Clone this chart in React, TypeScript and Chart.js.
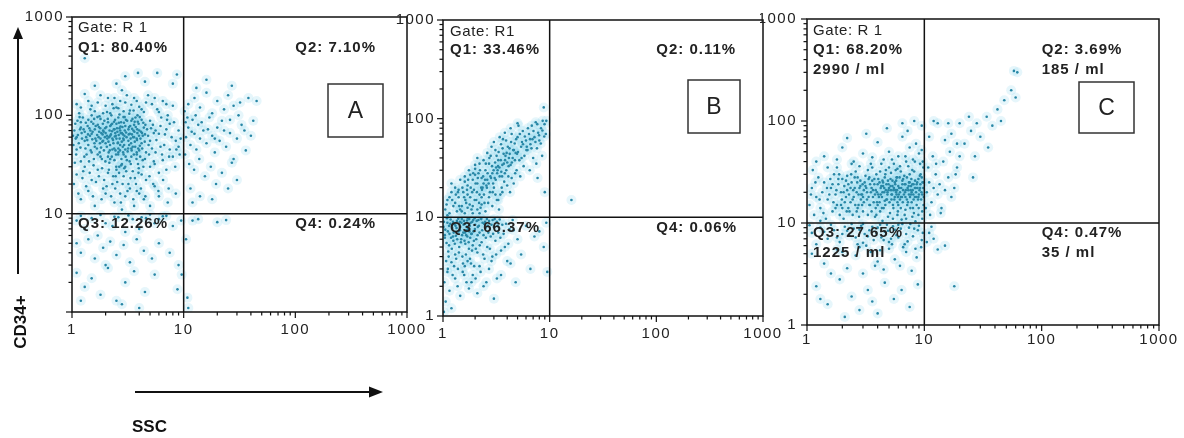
import React, { useEffect, useRef } from 'react';
import { Chart, registerables } from 'chart.js';

Chart.register(...registerables);

// ---------- tick values / labels ----------
const TICK_VALUES = [1, 2, 3, 4, 5, 6, 7, 8, 9, 10, 20, 30, 40, 50, 60, 70, 80, 90, 100, 200, 300, 400, 500, 600, 700, 800, 900, 1000];
const X_LABELS = [1, 10, 100, 1000];
const Y_LABELS_A = [10, 100, 1000];
const Y_LABELS_BC = [1, 10, 100, 1000];

// ---------- panel A events (SSC, CD34+) as flat x,y pairs ----------
const aQ1 = [
  1.1, 60, 1.2, 75, 1.3, 55, 1.4, 90, 1.5, 65, 1.6, 48, 1.7, 80, 1.8, 58, 1.9, 70, 2.0, 52, 2.1, 85, 2.2, 62, 2.3, 45, 2.4, 72, 2.5, 58, 2.6, 95, 2.7, 50, 2.8, 66, 2.9, 40, 3.0, 78, 3.2, 55, 3.4, 88, 3.6, 60, 3.8, 42, 4.0, 70, 4.2, 52, 4.5, 64,
  1.1, 45, 1.2, 85, 1.3, 68, 1.4, 50, 1.5, 100, 1.6, 72, 1.7, 40, 1.8, 92, 1.9, 55, 2.0, 66, 2.1, 38, 2.2, 78, 2.3, 58, 2.4, 35, 2.5, 82, 2.6, 46, 2.7, 70, 2.8, 32, 2.9, 56, 3.0, 45, 3.2, 72, 3.4, 38, 3.6, 80, 3.8, 58, 4.0, 44, 4.2, 90, 4.5, 36,
  1.05, 70, 1.15, 52, 1.25, 95, 1.35, 40, 1.45, 62, 1.55, 82, 1.65, 55, 1.75, 68, 1.85, 36, 1.95, 88, 2.05, 48, 2.15, 60, 2.25, 100, 2.35, 52, 2.45, 44, 2.55, 68, 2.65, 30, 2.75, 85, 2.85, 48, 2.95, 62, 3.1, 35, 3.3, 65, 3.5, 48, 3.7, 95, 3.9, 32, 4.1, 58, 4.4, 75,
  1.08, 58, 1.22, 66, 1.38, 78, 1.52, 57, 1.68, 63, 1.82, 47, 1.98, 74, 2.12, 54, 2.28, 69, 2.42, 61, 2.58, 53, 2.72, 77, 2.88, 58, 3.05, 67, 3.25, 50, 3.45, 73, 3.65, 54, 3.85, 66, 4.05, 49, 4.3, 62, 1.12, 88, 1.32, 46, 1.58, 92, 1.78, 52, 2.18, 44, 2.38, 86, 2.62, 63, 2.92, 84, 3.15, 43, 3.55, 70, 3.95, 82, 1.42, 34, 1.88, 64, 2.48, 40, 3.35, 58,
  1.03, 50, 1.07, 82, 1.09, 40, 1.13, 63, 1.17, 96, 1.19, 47, 1.23, 58, 1.27, 72, 1.29, 38, 1.33, 84, 1.37, 56, 1.39, 64, 1.43, 74, 1.47, 44, 1.49, 86, 1.53, 68, 1.57, 36, 1.59, 52, 1.63, 78, 1.67, 46, 1.69, 96, 1.73, 60, 1.77, 42, 1.79, 74, 1.83, 66, 1.87, 54, 1.89, 82, 1.93, 44, 1.97, 60, 1.99, 34,
  2.03, 76, 2.07, 58, 2.09, 92, 2.13, 42, 2.17, 70, 2.19, 50, 2.23, 64, 2.27, 38, 2.29, 82, 2.33, 56, 2.37, 72, 2.39, 46, 2.43, 90, 2.47, 62, 2.49, 30, 2.53, 74, 2.57, 52, 2.59, 40, 2.63, 84, 2.67, 58, 2.69, 44, 2.73, 66, 2.77, 36, 2.79, 54, 2.83, 76, 2.87, 42, 2.89, 96, 2.93, 50, 2.97, 70,
  3.02, 38, 3.08, 60, 3.12, 88, 3.18, 46, 3.22, 64, 3.28, 34, 3.32, 78, 3.38, 52, 3.42, 44, 3.48, 92, 3.52, 60, 3.58, 40, 3.62, 68, 3.68, 48, 3.72, 76, 3.78, 36, 3.82, 56, 3.88, 86, 3.92, 46, 3.98, 62, 4.08, 38, 4.15, 68, 4.25, 46, 4.35, 84, 4.48, 54, 4.6, 42, 4.7, 72, 4.85, 50, 5.0, 88, 5.2, 46, 5.4, 66, 5.7, 56,
  1.02, 62, 1.18, 72, 1.34, 60, 1.46, 70, 1.62, 58, 1.74, 76, 1.92, 68, 2.06, 62, 2.24, 80, 2.44, 66, 2.66, 74, 2.86, 64, 3.04, 90, 3.24, 76, 3.44, 64, 3.64, 86, 3.84, 72, 4.04, 96, 4.24, 66, 4.54, 80, 4.8, 62, 5.1, 74, 5.6, 70, 6.2, 78, 6.8, 64, 7.5, 82,
  1.2, 34, 1.5, 42, 1.8, 38, 2.2, 36, 2.6, 42, 3.0, 30, 3.4, 46, 3.8, 40, 4.3, 35, 4.9, 40, 5.5, 32, 6.4, 40,
  1.06, 33, 1.26, 27, 1.56, 31, 1.86, 29, 2.16, 33, 2.46, 24, 2.76, 31, 3.06, 27, 3.36, 32, 3.66, 23, 3.96, 29, 4.36, 30, 1.16, 105, 1.46, 115, 1.76, 98, 2.06, 108, 2.36, 118, 2.66, 102, 2.96, 96, 3.26, 104, 3.56, 112, 3.86, 100,
  1.04, 20, 1.14, 16, 1.24, 23, 1.34, 19, 1.44, 26, 1.54, 15, 1.64, 21, 1.74, 24, 1.84, 14, 1.94, 22, 2.04, 19, 2.14, 28, 2.24, 15, 2.34, 24, 2.44, 18, 2.54, 21, 2.64, 26, 2.74, 13, 2.84, 20, 2.94, 29, 3.14, 17, 3.34, 23, 3.54, 14, 3.74, 20, 3.94, 26, 4.14, 18, 4.54, 15, 4.94, 24, 5.34, 20, 5.94, 17, 6.54, 22, 7.34, 18,
  1.1, 130, 1.3, 165, 1.5, 125, 1.7, 135, 1.9, 105, 2.1, 150, 2.3, 130, 2.5, 120, 2.7, 140, 2.9, 110, 3.1, 160, 3.4, 128, 3.8, 140, 4.2, 115, 4.6, 135, 5.5, 150, 6.0, 108, 7.0, 130,
  1.1, 25, 1.3, 30, 1.5, 22, 1.7, 28, 1.9, 18, 2.1, 26, 2.3, 20, 2.5, 28, 2.7, 16, 2.9, 24, 3.2, 20, 3.5, 27, 3.8, 17, 4.2, 25, 4.6, 22, 5.0, 30, 5.5, 19, 6.0, 26, 6.5, 35, 7.0, 28, 7.5, 45, 8.0, 38, 8.5, 55, 9.0, 48,
  1.2, 120, 1.4, 140, 1.6, 110, 1.8, 160, 2.0, 125, 2.2, 105, 2.4, 150, 2.6, 118, 2.8, 180, 3.0, 135, 3.3, 112, 3.6, 150, 4.0, 122, 4.4, 108, 4.8, 160, 5.2, 130, 5.8, 115, 6.5, 140, 7.2, 100, 8.0, 125,
  5.0, 55, 5.3, 80, 5.6, 42, 6.0, 65, 6.3, 95, 6.7, 50, 7.0, 72, 7.4, 38, 7.8, 60, 8.2, 85, 8.6, 45, 9.0, 70, 9.4, 58, 5.4, 34, 6.2, 48, 7.1, 90, 8.4, 30, 9.2, 40,
  1.2, 14, 1.6, 12, 2.0, 16, 2.4, 13, 3.0, 15, 3.6, 12, 4.4, 14, 5.0, 12, 6.0, 15, 7.2, 13, 8.5, 16, 1.4, 17, 2.8, 11, 3.3, 18, 4.0, 16,
  1.3, 380, 2.5, 210, 3.0, 250, 4.5, 220, 5.8, 270, 8.0, 210, 3.9, 270, 8.7, 260, 1.6, 200,
];
const aQ2 = [
  10.5, 60, 11, 75, 11.5, 50, 12, 90, 12.5, 65, 13, 45, 13.5, 80, 14, 58, 15, 70, 16, 52, 17, 95, 18, 62, 19, 42, 20, 75, 21, 55, 22, 88, 24, 48, 26, 66, 28, 36, 30, 58, 33, 80, 36, 44, 40, 62, 45, 140,
  10.2, 110, 11, 130, 12.5, 150, 14, 120, 16, 170, 18, 105, 20, 140, 23, 115, 25, 160, 28, 125, 32, 135, 38, 150, 27, 200, 16, 230, 13, 190,
  10.3, 40, 11.2, 32, 12.4, 28, 13.8, 36, 15.5, 24, 17.5, 30, 19.5, 20, 22, 26, 25, 18, 30, 22, 14, 15, 12, 13, 18, 14, 11.5, 18, 27, 33,
  10.4, 85, 10.8, 95, 11.8, 68, 12.8, 100, 14.5, 85, 16.5, 72, 19, 58, 23, 70, 26, 90, 31, 100, 35, 70, 42, 88,
];
const aQ3 = [
  1.1, 8.5, 1.3, 7, 1.5, 9, 1.7, 6, 2.0, 8, 2.3, 7.5, 2.6, 9.2, 3.0, 6.5, 3.5, 8.8, 4.0, 7, 4.6, 9, 5.5, 8, 6.5, 9.4, 8.0, 7.5, 9.5, 8.5,
  1.1, 5, 1.2, 4, 1.4, 5.5, 1.6, 3.5, 1.9, 4.5, 2.2, 5.2, 2.5, 3.8, 2.9, 4.8, 3.3, 3.2, 3.8, 5.5, 4.4, 4.2, 5.2, 3.5, 6.0, 5, 7.5, 4, 9.0, 3,
  1.1, 2.5, 1.3, 1.8, 1.5, 2.2, 1.8, 1.5, 2.1, 2.8, 2.5, 1.3, 3.0, 2, 3.6, 2.6, 4.5, 1.6, 5.5, 2.4, 8.8, 1.7, 9.6, 2.4, 1.2, 1.3, 2.8, 1.2, 4.0, 1.1, 2.0, 3,
  1.2, 9.5, 1.8, 9.7, 2.4, 9.3, 3.2, 9.6, 4.2, 9.2, 5.0, 9.8, 6.0, 8.8, 7.0, 9.5,
];
const aQ4 = [10.5, 5.5, 12, 8.5, 13.5, 8.8, 20, 8.2, 11, 1.1, 10.8, 1.4, 24, 8.6];

// ---------- panel B events ----------
const bQ1 = [
  1.05, 12, 1.1, 15, 1.15, 11, 1.2, 18, 1.25, 13, 1.3, 20, 1.35, 11.5, 1.4, 16, 1.45, 24, 1.5, 13, 1.1, 10.5, 1.3, 14, 1.45, 12, 1.2, 22,
  1.55, 18, 1.6, 26, 1.65, 14, 1.7, 21, 1.75, 30, 1.8, 16, 1.85, 12, 1.9, 24, 1.95, 19, 2.0, 34, 2.05, 15, 2.1, 22, 2.15, 28, 2.2, 17, 2.25, 12.5, 2.3, 25, 2.35, 20, 2.4, 38, 2.45, 14, 2.5, 30, 1.6, 11, 1.9, 13, 2.2, 11, 2.4, 22, 2.1, 40, 1.7, 17, 2.0, 27, 2.3, 16,
  2.6, 24, 2.7, 35, 2.75, 18, 2.8, 42, 2.9, 28, 3.0, 20, 3.1, 48, 3.15, 32, 3.2, 15, 3.3, 38, 3.4, 26, 3.5, 55, 3.55, 20, 3.6, 34, 3.7, 44, 3.8, 28, 3.9, 60, 4.0, 36, 2.65, 14, 2.95, 22, 3.25, 30, 3.45, 17, 3.75, 23, 3.95, 45, 2.85, 52, 3.35, 12, 3.65, 62,
  4.1, 26, 4.2, 50, 4.3, 34, 4.4, 70, 4.5, 40, 4.6, 22, 4.7, 56, 4.8, 45, 4.9, 30, 5.0, 65, 5.2, 38, 5.4, 52, 5.6, 75, 5.8, 42, 6.0, 60, 4.25, 18, 4.75, 28, 5.3, 26, 5.7, 33, 5.1, 85,
  6.2, 48, 6.4, 70, 6.6, 55, 6.8, 85, 7.0, 40, 7.2, 65, 7.4, 92, 7.6, 50, 7.8, 72, 8.0, 60, 8.3, 80, 8.6, 95, 8.9, 66, 9.2, 70, 6.5, 30, 7.5, 35, 8.5, 42, 9.0, 18, 8.8, 130, 7.7, 25, 9.3, 95,
  1.15, 16, 1.38, 18, 1.62, 15, 1.82, 20, 2.08, 18, 2.32, 19, 2.55, 21, 2.78, 26, 3.05, 25, 3.28, 33, 3.52, 29, 3.82, 38, 4.15, 40, 4.55, 48, 4.95, 44, 5.5, 58, 6.1, 52, 6.9, 62,
  1.08, 13.5, 1.22, 15, 1.32, 17, 1.42, 13, 1.52, 20, 1.58, 16, 1.68, 19, 1.72, 24, 1.78, 13.5, 1.88, 18, 1.92, 28, 1.98, 15, 2.02, 22, 2.12, 25, 2.18, 14, 2.22, 30, 2.28, 20, 2.38, 26, 2.42, 17, 2.48, 24,
  2.52, 35, 2.58, 20, 2.62, 28, 2.68, 22, 2.72, 40, 2.82, 25, 2.88, 33, 2.92, 18, 2.98, 30, 3.08, 36, 3.12, 24, 3.18, 42, 3.22, 28, 3.32, 46, 3.38, 32, 3.48, 38, 3.58, 26, 3.62, 50, 3.72, 35, 3.85, 42,
  3.92, 30, 4.05, 52, 4.12, 33, 4.22, 44, 4.35, 58, 4.42, 36, 4.62, 48, 4.72, 38, 4.85, 62, 5.05, 46, 5.25, 70, 5.45, 40, 5.62, 55, 5.85, 66, 6.05, 48, 6.25, 80, 6.55, 62, 6.75, 50, 7.05, 75, 7.35, 58, 7.65, 88, 7.95, 68, 8.25, 56, 8.55, 76, 8.95, 88,
  1.5, 11.5, 1.7, 12.5, 1.9, 11, 2.1, 12, 2.3, 13.5, 2.5, 11.5, 2.7, 16, 2.9, 13, 3.1, 17, 3.3, 15, 3.6, 18, 4.0, 21, 4.4, 25, 1.4, 19, 1.6, 23, 1.8, 27, 2.0, 31, 2.2, 35, 2.6, 45, 3.0, 58, 3.4, 65, 3.8, 72, 4.3, 80, 5.0, 90,
];
const bQ2 = [16, 15];
const bQ3 = [
  1.02, 9, 1.05, 7.5, 1.08, 5.5, 1.1, 8.8, 1.12, 4.5, 1.15, 6.8, 1.18, 9.5, 1.2, 3.5, 1.22, 7.8, 1.25, 5.8, 1.28, 8.5, 1.3, 4.2, 1.32, 6.5, 1.35, 9.2, 1.38, 3, 1.4, 7.2, 1.42, 5, 1.45, 8, 1.48, 6, 1.5, 9.6,
  1.52, 4, 1.55, 7, 1.58, 2.6, 1.6, 8.6, 1.62, 5.4, 1.65, 6.6, 1.68, 9.3, 1.7, 3.6, 1.72, 7.6, 1.75, 4.8, 1.78, 8.2, 1.8, 6.2, 1.85, 2.2, 1.88, 9, 1.9, 5.2, 1.93, 7.2, 1.96, 3.2, 2.0, 8.4, 2.05, 6, 2.1, 4.4,
  2.15, 9.4, 2.2, 7, 2.25, 2.8, 2.3, 5.6, 2.35, 8.8, 2.4, 6.6, 2.45, 3.8, 2.5, 7.8, 2.6, 5, 2.7, 9.2, 2.8, 6.4, 2.9, 4, 3.0, 8, 3.1, 5.8, 3.2, 2.4, 3.3, 7, 3.4, 9.5, 3.5, 4.6, 3.7, 6.8, 3.9, 8.6,
  4.1, 5.4, 4.3, 3.4, 4.6, 7.4, 5.0, 6, 5.4, 4.2, 6.0, 8.2, 6.6, 3, 7.2, 6.4, 8.0, 7.2, 8.8, 5, 9.3, 8.8, 9.5, 2.8,
  1.03, 2.2, 1.06, 1.4, 1.1, 2.8, 1.15, 1.8, 1.2, 1.2, 1.3, 2.4, 1.45, 1.6, 1.6, 3.2, 1.75, 1.9, 1.9, 2.6, 2.1, 1.7, 2.4, 2, 2.7, 3, 3.0, 1.5, 3.5, 2.6, 4.0, 3.6, 4.8, 2.2, 1.07, 3.6, 1.13, 4, 1.27, 3.2, 1.02, 1.1,
  1.04, 6.2, 1.14, 8.2, 1.24, 6.4, 1.34, 7.8, 1.44, 9.0, 1.56, 8.4, 1.66, 7.4, 1.76, 9.6, 1.86, 6.8, 1.98, 9.8, 2.12, 8.0, 2.28, 9.6, 2.48, 9.0, 2.62, 8.2, 2.92, 9.4, 3.2, 9.0,
  1.01, 8, 1.04, 6.6, 1.09, 9.8, 1.11, 7.2, 1.14, 5.2, 1.17, 8.6, 1.19, 6.2, 1.21, 4.8, 1.24, 9, 1.26, 7, 1.29, 5.4, 1.31, 8.2, 1.33, 3.8, 1.36, 6, 1.39, 9.7, 1.41, 4.4, 1.44, 7.4, 1.47, 5.6, 1.49, 8.8, 1.51, 6.6,
  1.54, 3.4, 1.57, 9.2, 1.59, 5.8, 1.61, 7, 1.64, 4.2, 1.67, 8, 1.69, 6.4, 1.71, 9.8, 1.74, 5.6, 1.77, 7.2, 1.79, 3.8, 1.82, 8.8, 1.84, 6.8, 1.87, 4.6, 1.92, 9.4, 1.95, 5.8, 1.99, 7.6, 2.03, 4.8, 2.07, 9.2, 2.11, 6.6,
  2.17, 8.2, 2.21, 5.2, 2.27, 9.8, 2.33, 7.4, 2.38, 4.2, 2.43, 8.6, 2.52, 6.2, 2.58, 9.6, 2.66, 7, 2.75, 4.8, 2.85, 8.4, 2.95, 6.8, 3.05, 9.6, 3.15, 4.2, 3.25, 8.2, 3.45, 6.2, 3.6, 8.4, 3.8, 5, 4.2, 7.6, 4.5, 9.4,
  1.11, 3, 1.23, 2.6, 1.37, 2, 1.53, 2.8, 1.66, 2.2, 1.83, 3.4, 2.02, 2.4, 2.2, 3.2, 2.55, 2.2, 2.85, 3.6,
];

// ---------- panel C events ----------
const cQ1 = [
  3.0, 18, 3.2, 22, 3.4, 15, 3.6, 26, 3.8, 19, 4.0, 24, 4.2, 13, 4.4, 20, 4.6, 28, 4.8, 17, 5.0, 22, 5.2, 31, 5.4, 15, 5.6, 25, 5.8, 19, 6.0, 23, 6.3, 14, 6.6, 27, 6.9, 18, 7.2, 22, 7.5, 30, 7.8, 16, 8.1, 24, 8.5, 20, 8.9, 27, 9.4, 17, 9.8, 22,
  3.1, 25, 3.3, 12, 3.5, 20, 3.7, 16, 3.9, 30, 4.1, 18, 4.3, 23, 4.5, 14, 4.7, 21, 4.9, 26, 5.1, 12.5, 5.3, 19, 5.5, 22, 5.7, 33, 5.9, 16, 6.2, 20, 6.5, 24, 6.8, 12, 7.1, 28, 7.4, 19, 7.7, 23, 8.0, 14, 8.3, 18, 8.7, 25, 9.1, 21, 9.6, 13,
  3.0, 13, 3.4, 28, 3.8, 11.5, 4.2, 32, 4.6, 16.5, 5.0, 35, 5.4, 11, 5.8, 28, 6.2, 17, 6.6, 21, 7.0, 11, 7.4, 25, 7.8, 20, 8.2, 32, 8.6, 15, 9.0, 19, 9.5, 28, 4.4, 26, 5.2, 21, 6.0, 15, 6.8, 24, 7.6, 14, 4.0, 15, 5.6, 18,
  3.25, 17, 3.65, 21, 4.05, 19, 4.45, 23, 4.85, 20, 5.25, 17, 5.65, 21, 6.05, 19, 6.45, 18, 6.85, 20, 7.25, 16, 7.65, 21, 8.05, 19, 8.45, 22, 8.85, 17, 9.25, 24,
  2.0, 14, 2.15, 18, 2.25, 24, 2.35, 16, 2.55, 22, 2.65, 13, 2.75, 19, 2.85, 26, 2.95, 15, 3.05, 21, 3.15, 29, 3.35, 18, 3.45, 24, 3.55, 13, 3.75, 27, 3.85, 21, 3.95, 16, 4.15, 25, 4.25, 19, 4.35, 14,
  4.55, 22, 4.65, 30, 4.75, 17, 4.95, 24, 5.15, 27, 5.35, 23, 5.45, 14, 5.75, 26, 5.85, 21, 5.95, 13, 6.15, 28, 6.35, 22, 6.55, 16, 6.75, 29, 6.95, 21, 7.15, 15, 7.35, 23, 7.55, 18, 7.75, 27, 7.95, 21,
  8.15, 12.5, 8.35, 26, 8.55, 18, 8.75, 22, 8.95, 14, 9.15, 29, 9.45, 20, 9.65, 25, 9.85, 15,
  1.55, 19, 1.65, 24, 1.75, 14, 1.85, 27, 1.95, 15, 2.05, 20, 2.15, 26, 2.25, 14, 2.35, 22, 2.45, 17, 2.55, 28, 2.65, 20, 2.75, 15, 2.85, 23, 2.95, 19, 3.05, 16, 3.15, 23, 3.25, 20, 3.35, 27, 3.45, 15,
  3.55, 22, 3.65, 18, 3.75, 24, 3.85, 14, 3.95, 20, 4.05, 27, 4.15, 16, 4.25, 22, 4.35, 18, 4.45, 25, 4.55, 20, 4.65, 15, 4.75, 24, 4.85, 19, 4.95, 21, 5.05, 16, 5.15, 23, 5.25, 19, 5.35, 26, 5.45, 21,
  5.55, 17, 5.65, 24, 5.75, 20, 5.85, 28, 5.95, 18, 6.1, 22, 6.3, 18, 6.5, 26, 6.7, 19, 6.9, 24, 7.1, 17, 7.3, 21, 7.5, 25, 7.7, 19, 7.9, 24, 8.1, 17, 8.3, 22, 8.6, 24, 8.9, 18, 9.2, 22, 9.6, 19,
  1.08, 19, 1.18, 25, 1.28, 17, 1.38, 12.5, 1.48, 22, 1.58, 27, 1.68, 16, 1.78, 21, 1.88, 30, 1.98, 17, 2.08, 23, 2.18, 13, 2.28, 19, 2.38, 30, 2.48, 21, 2.58, 15, 2.68, 25, 2.78, 11.5, 2.88, 17, 2.98, 24,
  3.6, 35, 4.3, 38, 5.3, 42, 6.3, 32, 7.3, 36, 8.3, 40, 5.9, 34, 4.7, 33, 3.3, 33, 2.4, 38, 7.9, 33, 6.9, 45,
  3.9, 12, 4.9, 11.5, 5.9, 12, 6.9, 13.5, 7.9, 11.5, 8.9, 12, 9.6, 11, 4.4, 10.5, 6.4, 10.8, 8.4, 10.4,
  1.05, 15, 1.1, 22, 1.15, 12, 1.2, 18, 1.25, 28, 1.3, 14, 1.35, 20, 1.4, 25, 1.45, 11, 1.5, 17, 1.6, 22, 1.65, 13, 1.7, 30, 1.75, 19, 1.8, 15, 1.85, 24, 1.9, 12, 1.95, 20, 2.0, 27, 2.1, 16,
  2.2, 21, 2.3, 13, 2.4, 25, 2.5, 18, 2.6, 32, 2.7, 14, 2.8, 22, 2.9, 19, 1.12, 33, 1.5, 35, 2.05, 11, 2.45, 12, 1.3, 10.5, 1.8, 35, 2.7, 28, 2.2, 29,
  1.4, 45, 2.0, 55, 2.5, 40, 3.0, 48, 3.5, 38, 4.0, 62, 4.5, 42, 5.0, 50, 5.5, 38, 6.0, 45, 6.5, 70, 7.0, 40, 7.5, 55, 8.0, 42, 8.5, 60, 9.0, 48, 9.5, 90, 3.2, 75, 4.8, 85, 7.2, 80,
  1.8, 42, 2.8, 36, 6.2, 36, 9.2, 38, 3.6, 44, 1.2, 40, 2.2, 68, 8.2, 100, 6.5, 95,
  9.3, 30, 9.7, 40, 9.9, 25, 9.5, 52, 9.8, 35, 9.9, 18,
];
const cQ2 = [
  10.5, 20, 11, 25, 11.5, 16, 12, 22, 12.5, 30, 13, 19, 13.5, 24, 14, 14, 15, 21, 16, 28, 17, 18, 18, 22, 19, 35, 10.8, 35, 11.8, 45, 12.6, 38, 14.5, 40, 16.5, 50, 18.5, 30, 20, 45, 10.3, 14, 11.2, 12, 13.8, 12.5,
  22, 60, 25, 80, 28, 95, 30, 70, 34, 110, 38, 90, 42, 130, 45, 100, 48, 160, 55, 200, 60, 170, 62, 300, 58, 310, 20, 95, 24, 110, 15, 65, 13, 95, 17, 75, 35, 55, 27, 45, 26, 28, 19, 60, 16, 95, 11, 70, 12, 100,
];
const cQ3 = [
  1.1, 8, 1.3, 9, 1.5, 7, 1.7, 8.5, 1.9, 6.5, 2.1, 9.2, 2.3, 7.5, 2.5, 8.8, 2.7, 6.2, 2.9, 9.4, 3.1, 7.8, 3.4, 8.5, 3.7, 6.8, 4.0, 9, 4.3, 7.2, 4.6, 8.2, 5.0, 6.5, 5.4, 9.3, 5.8, 7.6, 6.3, 8.8, 6.8, 6.2, 7.4, 9, 8.0, 7.4, 8.8, 8.5, 9.5, 6.8, 1.2, 6.2, 2.0, 7.8, 3.2, 6, 4.8, 9.6, 6.0, 9.6,
  1.05, 9.5, 1.4, 8.2, 1.6, 9.6, 1.8, 7.2, 2.2, 8.4, 2.4, 9.8, 2.6, 7.2, 2.8, 8.6, 3.0, 9.8, 3.3, 7.4, 3.6, 9.2, 3.9, 8.0, 4.2, 9.6, 4.5, 6.8, 4.9, 8.4, 5.2, 7.0, 5.6, 8.6, 6.0, 7.2, 6.5, 9.8, 7.0, 7.8, 7.6, 9.8, 8.2, 8.8, 9.0, 9.4, 9.7, 8.0,
  2.0, 5.2, 3.0, 6.4, 4.2, 5.4, 5.3, 6.2, 7.2, 6.6, 8.4, 5.6,
  1.1, 5, 1.4, 4, 1.8, 5.5, 2.2, 3.6, 2.6, 4.8, 3.0, 3.2, 3.5, 5.2, 4.0, 4.2, 4.5, 3.5, 5.0, 5.6, 5.6, 4.4, 6.2, 3.8, 7.0, 5.2, 7.8, 3.4, 8.6, 4.6, 9.4, 5.8, 1.6, 3.2, 2.8, 5.8, 3.8, 3.8, 6.6, 5.8,
  1.2, 2.4, 1.5, 1.6, 1.9, 2.8, 2.4, 1.9, 2.8, 1.4, 3.3, 2.2, 4.0, 1.3, 4.6, 2.6, 5.5, 1.8, 6.4, 2.2, 7.5, 1.5, 8.8, 2.5, 2.1, 1.2, 3.6, 1.7, 1.3, 1.8,
];
const cQ4 = [11, 8, 12, 7, 13, 5.5, 15, 6, 18, 2.4, 11.5, 9.2, 10.5, 6.5];

const pointsA = [...aQ1, ...aQ2, ...aQ3, ...aQ4];
const pointsB = [...bQ1, ...bQ2, ...bQ3];
const pointsC = [...cQ1, ...cQ2, ...cQ3, ...cQ4];

// ---------- quadrant statistics texts ----------
const textsA = { gate: 'Gate: R 1', q1: ['Q1: 80.40%'], q2: ['Q2: 7.10%'], q3: ['Q3: 12.26%'], q4: ['Q4: 0.24%'], letter: 'A' };
const textsB = { gate: 'Gate: R1', q1: ['Q1: 33.46%'], q2: ['Q2: 0.11%'], q3: ['Q3: 66.37%'], q4: ['Q4: 0.06%'], letter: 'B' };
const textsC = {
  gate: 'Gate: R 1',
  q1: ['Q1: 68.20%', '2990 / ml'],
  q2: ['Q2: 3.69%', '185 / ml'],
  q3: ['Q3: 27.65%', '1225 / ml'],
  q4: ['Q4: 0.47%', '35 / ml'],
  letter: 'C',
};

const FONT = '"Liberation Sans", Arial, Helvetica, sans-serif';

type Texts = typeof textsC;
type Layout = {
  left: number; width: number; height: number;
  area: [number, number, number, number]; // page coords: left, top, right, bottom
  xPad: number; yPad: number;
  textDx: number; gateDy: number; q1Dy: number; q3Dy: number;
  box: [number, number, number, number]; // inset from right, offset from top, w, h
};

const isDecade = (v: number) => Math.abs(Math.log10(v) - Math.round(Math.log10(v))) < 1e-9;

function toXY(flat: number[]) {
  const out: { x: number; y: number }[] = [];
  for (let i = 0; i + 1 < flat.length; i += 2) out.push({ x: flat[i], y: flat[i + 1] });
  return out;
}

function makeOverlay(texts: Texts, lay: Layout) {
  return {
    id: 'flowOverlay',
    beforeDraw(chart: any) {
      chart.ctx.letterSpacing = '1.5px';
    },
    afterDraw(chart: any) {
      const { ctx, chartArea: a, scales } = chart;
      const xs = scales.x;
      const ys = scales.y;
      const line = (x1: number, y1: number, x2: number, y2: number) => {
        ctx.beginPath();
        ctx.moveTo(x1, y1);
        ctx.lineTo(x2, y2);
        ctx.stroke();
      };
      ctx.save();
      ctx.letterSpacing = '0px';
      ctx.strokeStyle = '#111';
      ctx.lineWidth = 1.5;
      ctx.strokeRect(a.left, a.top, a.right - a.left, a.bottom - a.top);
      const qx = xs.getPixelForValue(10);
      const qy = ys.getPixelForValue(10);
      line(qx, a.top, qx, a.bottom);
      line(a.left, qy, a.right, qy);
      ctx.lineWidth = 1.2;
      xs.ticks.forEach((t: any) => {
        const p = xs.getPixelForValue(t.value);
        const L = isDecade(t.value) ? 6 : 3.5;
        line(p, a.bottom, p, a.bottom + L);
      });
      ys.ticks.forEach((t: any) => {
        const p = ys.getPixelForValue(t.value);
        const L = isDecade(t.value) ? 6 : 3.5;
        line(a.left - L, p, a.left, p);
      });

      ctx.fillStyle = '#222';
      ctx.textBaseline = 'middle';
      ctx.textAlign = 'left';
      const lx = a.left + lay.textDx;
      const rx = xs.getPixelForValue(100);
      ctx.font = `15px ${FONT}`;
      ctx.letterSpacing = '0.6px';
      ctx.fillText(texts.gate, lx, a.top + lay.gateDy);
      ctx.font = `bold 15px ${FONT}`;
      ctx.letterSpacing = '1px';
      texts.q1.forEach((s, i) => ctx.fillText(s, lx, a.top + lay.q1Dy + i * 20));
      texts.q2.forEach((s, i) => ctx.fillText(s, rx, a.top + lay.q1Dy + i * 20));
      texts.q3.forEach((s, i) => ctx.fillText(s, lx, qy + lay.q3Dy + i * 20));
      texts.q4.forEach((s, i) => ctx.fillText(s, rx, qy + lay.q3Dy + i * 20));

      const [inset, dt, w, h] = lay.box;
      const bx = a.right - inset - w;
      const by = a.top + dt;
      ctx.lineWidth = 1.5;
      ctx.strokeStyle = '#333';
      ctx.strokeRect(bx, by, w, h);
      ctx.letterSpacing = '0px';
      ctx.font = `23px ${FONT}`;
      ctx.textAlign = 'center';
      ctx.fillStyle = '#222';
      ctx.fillText(texts.letter, bx + w / 2, by + h / 2 + 1);
      ctx.restore();
    },
  };
}

function Panel({ points, yLabels, texts, lay }: { points: number[]; yLabels: number[]; texts: Texts; lay: Layout }) {
  const ref = useRef<HTMLCanvasElement | null>(null);
  useEffect(() => {
    const canvas = ref.current;
    if (!canvas) return;
    const [al, at, ar, ab] = lay.area;
    const yW = al - lay.left;
    const xH = lay.height - ab;
    const data = toXY(points);
    const setTicks = (s: any) => {
      s.ticks = TICK_VALUES.map((v) => ({ value: v }));
    };
    const chart = new Chart(canvas, {
      type: 'scatter',
      data: {
        datasets: [
          { data, pointRadius: 1.3, pointBackgroundColor: '#2887a6', pointBorderWidth: 0, pointHoverRadius: 0 },
          { data, pointRadius: 5, pointBackgroundColor: 'rgba(130, 212, 236, 0.2)', pointBorderWidth: 0, pointHoverRadius: 0 },
        ],
      },
      options: {
        animation: false,
        responsive: false,
        events: [],
        devicePixelRatio: 1,
        layout: { autoPadding: false, padding: { left: 0, top: at, right: lay.left + lay.width - ar, bottom: 0 } },
        plugins: { legend: { display: false }, tooltip: { enabled: false } },
        scales: {
          x: {
            type: 'logarithmic',
            position: 'bottom',
            min: 1,
            max: 1000,
            afterBuildTicks: setTicks,
            afterFit: (s: any) => { s.height = xH; },
            grid: { display: false, drawTicks: false },
            border: { display: false },
            ticks: {
              autoSkip: false,
              maxRotation: 0,
              minRotation: 0,
              padding: lay.xPad,
              color: '#222',
              font: { family: FONT, size: 15 },
              callback: (v: any) => (X_LABELS.includes(Number(v)) ? String(v) : ''),
            },
          },
          y: {
            type: 'logarithmic',
            position: 'left',
            min: 1,
            max: 1000,
            afterBuildTicks: setTicks,
            afterFit: (s: any) => { s.width = yW; },
            grid: { display: false, drawTicks: false },
            border: { display: false },
            ticks: {
              autoSkip: false,
              padding: lay.yPad,
              color: '#222',
              font: { family: FONT, size: 15 },
              callback: (v: any) => (yLabels.includes(Number(v)) ? String(v) : ''),
            },
          },
        },
      } as any,
      plugins: [makeOverlay(texts, lay)],
    });
    return () => chart.destroy();
  }, []);
  return (
    <canvas
      ref={ref}
      width={lay.width}
      height={lay.height}
      style={{ position: 'absolute', left: lay.left, top: 0, width: lay.width, height: lay.height }}
    />
  );
}

const layA: Layout = { left: 0, width: 437, height: 360, area: [72, 15, 407, 312], xPad: 9, yPad: 8, textDx: 6, gateDy: 11, q1Dy: 31, q3Dy: 10, box: [24, 67, 55, 53] };
const layB: Layout = { left: 380, width: 413, height: 360, area: [443, 20, 763, 316], xPad: 9, yPad: 8, textDx: 7, gateDy: 12, q1Dy: 30, q3Dy: 11, box: [23, 60, 52, 53] };
const layC: Layout = { left: 760, width: 424, height: 360, area: [807, 19, 1159, 325], xPad: 6, yPad: 10, textDx: 6, gateDy: 12, q1Dy: 31, q3Dy: 10, box: [25, 63, 55, 51] };

export default function App() {
  return (
    <div style={{ position: 'fixed', left: 0, top: 0, width: 1184, height: 438, background: '#fff', overflow: 'hidden' }}>
      <Panel points={pointsA} yLabels={Y_LABELS_A} texts={textsA} lay={layA} />
      <Panel points={pointsB} yLabels={Y_LABELS_BC} texts={textsB} lay={layB} />
      <Panel points={pointsC} yLabels={Y_LABELS_BC} texts={textsC} lay={layC} />
      <svg width={1184} height={438} style={{ position: 'absolute', left: 0, top: 0, pointerEvents: 'none' }}>
        <line x1={18} y1={38} x2={18} y2={274} stroke="#111" strokeWidth={2} />
        <polygon points="18,27 13,39 23,39" fill="#111" />
        <text
          x={20}
          y={322}
          transform="rotate(-90 20 322)"
          textAnchor="middle"
          dominantBaseline="central"
          fontFamily={FONT}
          fontWeight="bold"
          fontSize={17}
          fill="#111"
        >
          CD34+
        </text>
        <line x1={135} y1={392} x2={370} y2={392} stroke="#111" strokeWidth={2} />
        <polygon points="383,392 369,386.5 369,397.5" fill="#111" />
        <text x={132} y={426} dominantBaseline="central" fontFamily={FONT} fontWeight="bold" fontSize={17} fill="#111">
          SSC
        </text>
      </svg>
    </div>
  );
}
